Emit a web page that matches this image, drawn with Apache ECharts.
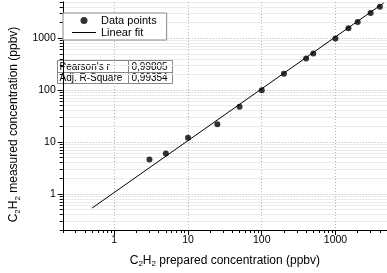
<!DOCTYPE html>
<html>
<head>
<meta charset="utf-8">
<script src="https://cdn.jsdelivr.net/npm/echarts@6/dist/echarts.min.js"></script>
<style>
html, body { margin: 0; padding: 0; background: #fff; }
#main { width: 387px; height: 273px; }
</style>
</head>
<body>
<div id="main"></div>
<script>
// measured points
var prepared = [3, 5, 10, 25, 50, 100, 200, 400, 500, 1000, 1500, 2000, 3000, 4000];
var measured = [4.6, 6.0, 12.1, 22, 47.5, 99.5, 206, 405, 505, 990, 1565, 2065, 3070, 4050];
// ends of the fit line
var fitX = [0.5, 4500];
var fitY = [0.53, 4780];
// tick values on both log axes
var majorTicks = [1, 10, 100, 1000];
var minorTicks = [0.2, 0.3, 0.4, 0.5, 0.6, 0.7, 0.8, 0.9,
	2, 3, 4, 5, 6, 7, 8, 9,
	20, 30, 40, 50, 60, 70, 80, 90,
	200, 300, 400, 500, 600, 700, 800, 900,
	2000, 3000, 4000, 5000];
var statNames = ["Pearson's r", 'Adj. R-Square'];
var statValues = ['0,99805', '0,99354'];

var FONT = '"Liberation Sans", Arial, sans-serif';

var points = [];
for (var i = 0; i < prepared.length; i++) {
	points.push([prepared[i], measured[i]]);
}
var fit = [];
for (var j = 0; j < fitX.length; j++) {
	fit.push([fitX[j], fitY[j]]);
}

var nameRich = {
	n: { fontSize: 12, fontFamily: FONT, color: '#000' },
	s: { fontSize: 8, fontFamily: FONT, color: '#000', verticalAlign: 'bottom', padding: [7, 0, 0, 0] }
};

// labelled axis: decades only, dotted grid
function majorAxis(name, gap, labelMargin, namePad) {
	return {
		type: 'log', min: 0.2, max: 5000,
		name: name, nameLocation: 'middle', nameGap: gap,
		nameTextStyle: { rich: nameRich, padding: namePad },
		axisLine: { show: true, lineStyle: { color: '#000', width: 1 } },
		axisTick: { show: true, inside: false, length: 5, customValues: majorTicks, lineStyle: { color: '#000' } },
		axisLabel: {
			customValues: majorTicks, margin: labelMargin, fontSize: 10.5, fontFamily: FONT, color: '#000',
			formatter: function (v) { return String(v); }
		},
		splitLine: { show: true, lineStyle: { color: '#b4b4b4', type: [1, 2], width: 1 } },
		minorTick: { show: false }
	};
}
// second axis on the same side, just for the short 2..9 ticks
function minorAxis(pos, grid) {
	return {
		type: 'log', min: 0.2, max: 5000, position: pos,
		axisLine: { show: true, lineStyle: { color: '#000', width: 1 } },
		axisTick: { show: true, inside: false, length: 3, customValues: minorTicks, lineStyle: { color: '#000' } },
		axisLabel: { show: false },
		splitLine: { show: grid, lineStyle: { color: '#ebebeb', width: 1 } }
	};
}

var xMain = majorAxis('{n|C}{s|2}{n|H}{s|2}{n| prepared concentration (ppbv)}', 23, 5, [0, 0, 0, 0]);
xMain.position = 'bottom';
var yMain = majorAxis('{n|C}{s|2}{n|H}{s|2}{n| measured concentration (ppbv)}', 26, 7, [0, 17, 0, 0]);
yMain.position = 'left';

// stats table
var tableEls = [
	{ type: 'rect', shape: { x: 57.5, y: 60.5, width: 115, height: 23 }, style: { fill: '#fff', stroke: '#888', lineWidth: 1 } },
	{ type: 'line', shape: { x1: 128.5, y1: 60.5, x2: 128.5, y2: 83.5 }, style: { stroke: '#888', lineWidth: 1 } },
	{ type: 'line', shape: { x1: 57.5, y1: 72.5, x2: 172.5, y2: 72.5 }, style: { stroke: '#888', lineWidth: 1 } }
];
for (var k = 0; k < statNames.length; k++) {
	tableEls.push({ type: 'text', x: 59.5, y: 67 + k * 11.5, style: { text: statNames[k], fontSize: 10, fontFamily: FONT, fill: '#000', verticalAlign: 'middle' } });
	tableEls.push({ type: 'text', x: 131.5, y: 67 + k * 11.5, style: { text: statValues[k], fontSize: 10, fontFamily: FONT, fill: '#000', verticalAlign: 'middle' } });
}

var chart = echarts.init(document.getElementById('main'));
chart.setOption({
	animation: false,
	backgroundColor: '#fff',
	grid: { left: 47, right: 0, top: 2, bottom: 40 },
	xAxis: [xMain, minorAxis('bottom', false)],
	yAxis: [yMain, minorAxis('left', true)],
	legend: {
		orient: 'vertical', left: 63, top: 13,
		data: [
			{ name: 'Data points', icon: 'circle' },
			{ name: 'Linear fit', icon: 'path://M0,0 L24,0 L24,1 L0,1 Z' }
		],
		itemWidth: 24, itemHeight: 7, itemGap: 1,
		padding: [2, 10, 2, 9],
		borderColor: '#888', borderWidth: 1, backgroundColor: '#fff',
		textStyle: { fontSize: 11, fontFamily: FONT, color: '#000' }
	},
	graphic: { elements: [{ type: 'group', z: 100, children: tableEls }] },
	series: [
		{
			name: 'Data points', type: 'scatter', data: points,
			symbol: 'circle', symbolSize: 6,
			itemStyle: { color: '#000' }, z: 3
		},
		{
			name: 'Linear fit', type: 'line', data: fit,
			symbol: 'none', showSymbol: false,
			lineStyle: { color: '#000', width: 1 }, itemStyle: { color: '#000' }
		}
	]
});
</script>
</body>
</html>
